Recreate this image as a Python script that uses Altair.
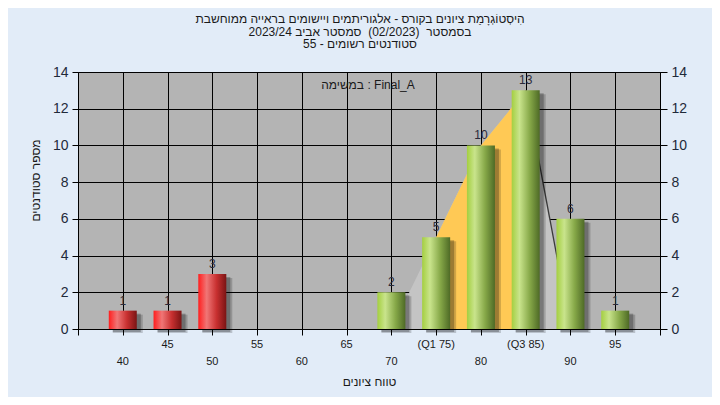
import altair as alt
import pandas as pd

# ---- data ----
scores = [40, 45, 50, 55, 60, 65, 70, 75, 80, 85, 90, 95]
counts = [1, 1, 3, 0, 0, 0, 2, 5, 10, 13, 6, 1]
tick_labels = ["40", "45", "50", "55", "60", "65", "70", "(Q1 75)", "80", "(Q3 85)", "90", "95"]
label_row = [1, 0, 1, 0, 1, 0, 1, 0, 1, 0, 1, 0]  # 1 = lower row, 0 = upper row
pass_mark = 55

curve_x = [70, 75, 80, 85, 90]
curve_y = [0, 5, 10, 13, 0]
iqr_x = [75, 80, 85]
iqr_y = [5, 10, 13]
tail_x = [85, 90]
tail_y = [13, 0]

title_lines = [
    "הִיסְטוֹגְרָמַת ציונים בקורס - אלגוריתמים ויישומים בראייה ממוחשבת",
    "בסמסטר\u00a0 (02/2023)\u00a0 סמסטר אביב 2023/24",
    "סטודנטים רשומים - 55",
]
note_text = "במשימה : Final_A"
x_title = "טווח ציונים"
y_title = "מספר סטודנטים"

FONT = "Liberation Sans"

df = pd.DataFrame({"score": scores, "count": counts, "label": tick_labels, "row": label_row})
bars_df = df[df["count"] > 0]
red_df = bars_df[bars_df["score"] < pass_mark]
green_df = bars_df[bars_df["score"] >= pass_mark]
curve_df = pd.DataFrame({"x": curve_x, "y": curve_y})
iqr_df = pd.DataFrame({"x": iqr_x, "y": iqr_y})
tail_df = pd.DataFrame({"x": tail_x, "y": tail_y})

xscale = alt.Scale(domain=[35, 100], nice=False, zero=False, padding=0)
yscale = alt.Scale(domain=[0, 14], nice=False, padding=0)

x_axis = alt.Axis(
    values=list(range(35, 101, 5)), labels=False, ticks=True, tickSize=6,
    tickColor="black", grid=True, gridColor="black", gridOpacity=1, gridWidth=1,
    domain=False, title=x_title, titleFont=FONT, titleFontSize=12,
    titleFontWeight="normal", titleColor="#1a1a1a", titleY=52, titleBaseline="middle",
)
y_axis = alt.Axis(
    values=list(range(0, 15, 2)), tickSize=6, tickColor="black", grid=True,
    gridColor="black", gridOpacity=1, gridWidth=1, domain=False,
    labelFont=FONT, labelFontSize=14, labelColor="#1f2a3a", labelPadding=4,
    title=y_title, titleFont=FONT, titleFontSize=12, titleFontWeight="normal",
    titleColor="#1a1a1a", titleX=-43, titleY=108, titleAngle=270, titleBaseline="middle",
)
y_axis_right = alt.Axis(
    values=list(range(0, 15, 2)), orient="right", tickSize=7, tickColor="black",
    grid=False, domain=False, labelFont=FONT, labelFontSize=14,
    labelColor="#1f2a3a", labelPadding=4, title=None,
)

X = alt.X("x:Q", scale=xscale, axis=x_axis)
Y = alt.Y("y:Q", scale=yscale, axis=y_axis)

gray_area = alt.Chart(curve_df).mark_area(color="#C4C4C4", opacity=1).encode(x=X, y=Y)
orange_area = alt.Chart(iqr_df).mark_area(color="#FFC955", opacity=1).encode(x=X, y=Y)
tail_line = alt.Chart(tail_df).mark_line(color="#3a3a3a", strokeWidth=1.3).encode(x=X, y=Y)

BX = alt.X("score:Q", scale=xscale, axis=x_axis)
BY = alt.Y("count:Q", scale=yscale, axis=y_axis)

shadow1 = alt.Chart(bars_df).mark_bar(
    color="black", opacity=0.18, size=30, xOffset=5, yOffset=4, y2Offset=5
).encode(x=BX, y=BY)
shadow2 = alt.Chart(bars_df).mark_bar(
    color="black", opacity=0.25, size=28, xOffset=4, yOffset=3, y2Offset=3
).encode(x=BX, y=BY)

red_grad = alt.LinearGradient(
    gradient="linear", x1=0, x2=1, y1=0, y2=0,
    stops=[
        alt.GradientStop(color="#FF1E1E", offset=0),
        alt.GradientStop(color="#F07676", offset=0.3),
        alt.GradientStop(color="#C83030", offset=0.65),
        alt.GradientStop(color="#7A1414", offset=1),
    ],
)
green_grad = alt.LinearGradient(
    gradient="linear", x1=0, x2=1, y1=0, y2=0,
    stops=[
        alt.GradientStop(color="#A4CF40", offset=0),
        alt.GradientStop(color="#C9E48C", offset=0.28),
        alt.GradientStop(color="#86A848", offset=0.65),
        alt.GradientStop(color="#4E6A26", offset=1),
    ],
)
red_bars = alt.Chart(red_df).mark_bar(color=red_grad, size=28).encode(x=BX, y=BY)
green_bars = alt.Chart(green_df).mark_bar(color=green_grad, size=28).encode(x=BX, y=BY)

bar_labels = alt.Chart(bars_df).mark_text(
    font=FONT, fontSize=12, color="#2a2a3a", dy=-10, baseline="middle"
).encode(x=BX, y=BY, text="count:Q")

x_labels_upper = alt.Chart(df[df["row"] == 0]).mark_text(
    font=FONT, fontSize=11, color="#1a1a1a", baseline="middle"
).encode(x=BX, y=alt.value(273), text="label:N")
x_labels_lower = alt.Chart(df[df["row"] == 1]).mark_text(
    font=FONT, fontSize=11, color="#1a1a1a", baseline="middle"
).encode(x=BX, y=alt.value(290), text="label:N")

note = alt.Chart(pd.DataFrame({"t": [note_text]})).mark_text(
    font=FONT, fontSize=12, color="#1a1a1a", baseline="middle"
).encode(x=alt.value(290), y=alt.value(13), text="t:N")

main = alt.layer(
    gray_area, orange_area, tail_line, shadow1, shadow2, red_bars, green_bars,
    bar_labels, x_labels_upper, x_labels_lower, note,
)

right = alt.Chart(bars_df).mark_point(opacity=0).encode(
    x=BX, y=alt.Y("count:Q", scale=yscale, axis=y_axis_right)
)

chart = alt.layer(main, right).resolve_scale(y="independent").properties(
    width=582, height=257,
    autosize=alt.AutoSizeParams(type="none"),
    padding={"left": 70, "top": 64, "right": 52, "bottom": 68},
    background="#E2ECF8",
    title=alt.TitleParams(
        text=title_lines, font=FONT, fontSize=12, fontWeight="normal",
        color="#1a1a1a", anchor="middle", dx=-9, offset=14, lineHeight=12.5,
    ),
).configure_view(fill="#B4B4B4", stroke="black", strokeWidth=1)

chart.save("out.html", embed_options={"renderer": "svg", "actions": False})
